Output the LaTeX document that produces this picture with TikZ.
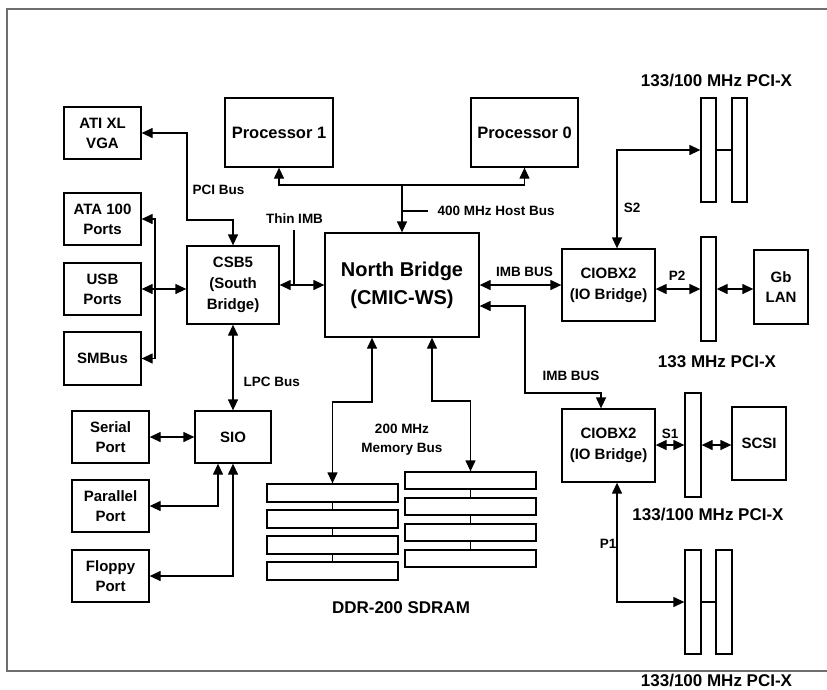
\documentclass[tikz,border=0pt]{standalone}
\usepackage{fontspec}
\setmainfont{Liberation Sans}
\usetikzlibrary{arrows.meta}
\definecolor{framegray}{RGB}{110,110,110}

\begin{document}
\begin{tikzpicture}[x=1pt,y=-1pt,line width=1.3pt,
  >={Triangle[length=11pt,width=10pt]},
  box/.style={draw,rectangle,inner sep=0pt,align=center,font=\fontsize{15}{20}\selectfont\bfseries},
  slot/.style={draw,rectangle,inner sep=0pt,minimum width=15pt,minimum height=104pt},
  dimm/.style={draw,rectangle,inner sep=0pt,minimum width=131pt,minimum height=17pt},
  lbl/.style={inner sep=0pt,font=\fontsize{13.5}{19}\selectfont\bfseries,align=center},
  big/.style={inner sep=0pt,font=\fontsize{17}{20}\selectfont\bfseries}]
\useasboundingbox (0,0) rectangle (827,689);
\draw[framegray,line width=1.5pt] (827,9) -- (7,9) -- (7,671) -- (827,671);

\node[box,minimum width=77pt,minimum height=52pt] (vga) at (102.5,133) {ATI XL\\VGA};
\node[box,minimum width=77pt,minimum height=52pt] (ata) at (102.5,219) {ATA 100\\Ports};
\node[box,minimum width=77pt,minimum height=52pt] (usb) at (102.5,289) {USB\\Ports};
\node[box,minimum width=77pt,minimum height=53pt] (smb) at (102.5,358.5) {SMBus};
\node[box,minimum width=108pt,minimum height=69pt,font=\fontsize{16.5}{20}\selectfont\bfseries] (p1) at (279,132.5) {Processor 1};
\node[box,minimum width=107pt,minimum height=69pt,font=\fontsize{16.5}{20}\selectfont\bfseries] (p0) at (524.5,132.5) {Processor 0};
\node[box,minimum width=92pt,minimum height=78pt,font=\fontsize{15}{21}\selectfont\bfseries] (csb) at (233,285) {CSB5\\(South\\Bridge)};
\node[box,minimum width=154pt,minimum height=104pt,font=\fontsize{20}{28}\selectfont\bfseries] (nb) at (402,285) {North Bridge\\(CMIC-WS)};
\node[box,minimum width=93pt,minimum height=72pt,font=\fontsize{15}{21}\selectfont\bfseries] (cioa) at (608.5,285) {CIOBX2\\(IO Bridge)};
\node[box,minimum width=93pt,minimum height=73pt,font=\fontsize{15}{21}\selectfont\bfseries] (ciob) at (608.5,445.5) {CIOBX2\\(IO Bridge)};
\node[box,minimum width=54pt,minimum height=74pt] (lan) at (781,287) {Gb\\LAN};
\node[box,minimum width=54pt,minimum height=73pt] (scsi) at (759,443.5) {SCSI};
\node[box,minimum width=76pt,minimum height=52pt] (sio) at (233,437) {SIO};
\node[box,minimum width=77pt,minimum height=52pt] (ser) at (110.5,437) {Serial\\Port};
\node[box,minimum width=77pt,minimum height=52pt] (par) at (110.5,506) {Parallel\\Port};
\node[box,minimum width=77pt,minimum height=52pt] (flo) at (110.5,576) {Floppy\\Port};

\node[slot] (sa) at (708.5,150) {};
\node[slot] (sb) at (739.5,150) {};
\node[slot] (sm) at (708.5,289) {};
\node[slot,minimum width=16pt] (ss) at (693,445) {};
\node[slot,minimum width=16pt] (sc) at (693,602) {};
\node[slot,minimum width=16pt] (sd) at (724,602) {};

\foreach \i/\y in {1/493,2/519,3/545,4/571}
  \node[dimm,minimum height=18pt] (dl\i) at (332.5,\y) {};
\foreach \i/\y in {1/480.5,2/506.5,3/532.5,4/558.5}
  \node[dimm] (dr\i) at (470.5,\y) {};
\foreach \i/\j in {1/2,2/3,3/4}
  {\draw (dl\i.south) -- (dl\j.north);
   \draw (dr\i.south) -- (dr\j.north);}

\draw[<->] (vga.east) -| (187,220) -| (csb.north);
\draw[<->] (ata.east) -| (155,300) |- (smb.east);
\draw[<->] (usb.east) -- (usb.east -| csb.west);
\draw[<->] (csb.east) -- (nb.west);
\draw (294,230) -- (294,285);
\draw[<->] (p1.south) |- (402,185) -| (p0.south);
\draw[->] (402,185) -- (nb.north);
\draw (402,211) -- (428,211);
\draw[<->] (nb.east) -- (cioa.west);
\draw[<->] ([xshift=8.5pt]cioa.north) |- (sa.west);
\draw (sa.east) -- (sb.west);
\draw[<->] (sm.west -| cioa.east) -- (sm.west);
\draw[<->] (sm.east) -- (sm.east -| lan.west);
\draw[<->] ([yshift=-21pt]nb.east) -| (525,393) -| ([xshift=-7.5pt]ciob.north);
\draw[<->] (ss.west -| ciob.east) -- (ss.west);
\draw[<->] (ss.east) -- (ss.east -| scsi.west);
\draw[<->] ([xshift=8.5pt]ciob.south) |- (sc.west);
\draw (sc.east) -- (sd.west);
\draw[<->] ([xshift=-30pt]nb.south) |- (332.5,402) -- (dl1.north);
\draw[<->] ([xshift=30pt]nb.south) |- (470.5,401) -- (dr1.north);
\draw[<->] (csb.south) -- (sio.north);
\draw[<->] (ser.east) -- (sio.west);
\draw[<->] ([xshift=-15pt]sio.south) |- (par.east);
\draw[<->] (sio.south) |- (flo.east);

\node[lbl,anchor=west] (lpci) at (192,190) {PCI Bus};
\node[lbl] (lthin) at (294.5,219) {Thin IMB};
\node[lbl,anchor=west] (lhost) at (437,211) {400 MHz Host Bus};
\node[lbl] (limba) at (524.5,272) {IMB BUS};
\node[lbl] (limbb) at (571,376) {IMB BUS};
\node[lbl] (ls2) at (632,208) {S2};
\node[lbl] (lp2) at (677,276) {P2};
\node[lbl] (ls1) at (670,434) {S1};
\node[lbl] (lp1) at (608,544) {P1};
\node[lbl,anchor=west] (llpc) at (243,382) {LPC Bus};
\node[lbl] (lmem) at (402,440) {200 MHz\\Memory Bus};
\node[big] (lddr) at (401,608) {DDR-200 SDRAM};
\node[big] (lpxa) at (716.5,81) {133/100 MHz PCI-X};
\node[big] (lpxb) at (717,362) {133 MHz PCI-X};
\node[big] (lpxc) at (708,515) {133/100 MHz PCI-X};
\node[big] (lpxd) at (716.5,680.5) {133/100 MHz PCI-X};
\end{tikzpicture}
\end{document}
